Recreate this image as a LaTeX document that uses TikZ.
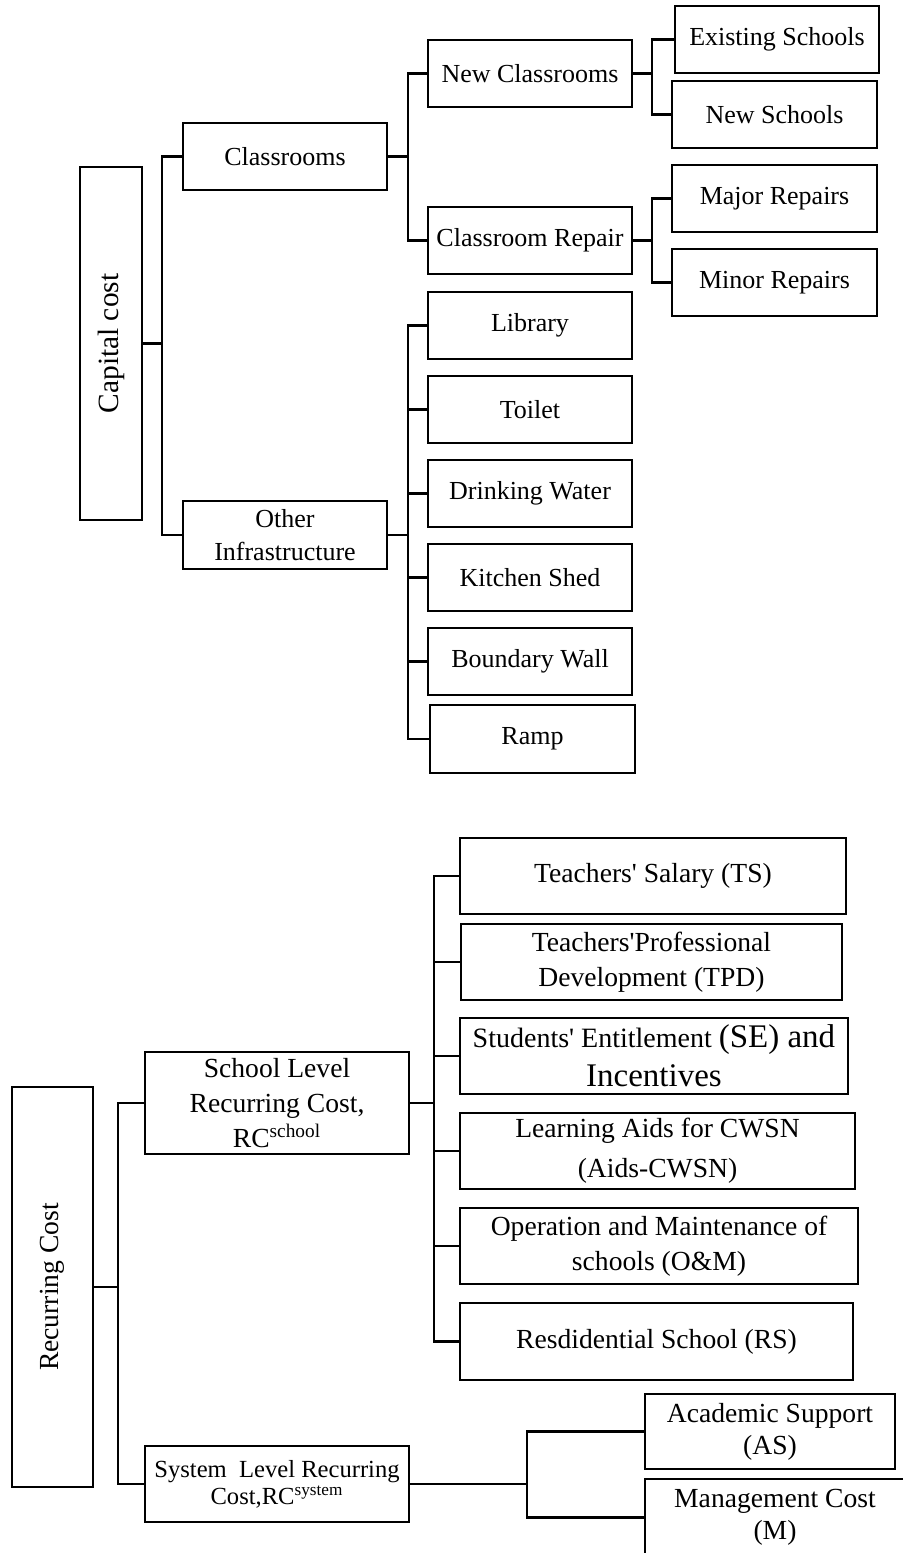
\documentclass[tikz,border=0pt]{standalone}
\usepackage{fontspec}
\setmainfont{Liberation Serif}

\tikzset{
  box/.style={draw, line width=1.1pt, align=center, inner sep=1pt,
    font=\fontsize{13}{16.5}\selectfont},
  lowbox/.style={box, font=\fontsize{13.8}{17.5}\selectfont},
  dim/.style 2 args={minimum width=#1*0.5pt, minimum height=#2*0.5pt},
  link/.style={line width=1.1pt},
}
\newcommand{\aps}{\textquotesingle}

\begin{document}
\begin{tikzpicture}[x=0.5pt,y=-0.5pt]
\useasboundingbox (0,0) rectangle (902,1553);

% capital cost tree
\node[box,dim={62}{353}] (cap) at (111,343.5) {\rotatebox{90}{\fontsize{14.7}{17}\selectfont Capital cost}};
\node[box,dim={204}{67}] (cls) at (285,156.5) {Classrooms};
\node[box,dim={204}{68}] (oth) at (285,535) {Other\\Infrastructure};
\node[box,dim={204}{67}] (newc) at (530,73.5) {New Classrooms};
\node[box,dim={204}{67}] (crep) at (530,240.5) {Classroom Repair};
\node[box,dim={204}{67}] (exs) at (777,39.5) {Existing Schools};
\node[box,dim={205}{67}] (nsch) at (774.5,114.5) {New Schools};
\node[box,dim={205}{67}] (majr) at (774.5,198.5) {Major Repairs};
\node[box,dim={205}{67}] (minr) at (774.5,282.5) {Minor Repairs};
\node[box,dim={204}{67}] (lib) at (530,325.5) {Library};
\node[box,dim={204}{67}] (toil) at (530,409.5) {Toilet};
\node[box,dim={204}{67}] (drw) at (530,493.5) {Drinking Water};
\node[box,dim={204}{67}] (kit) at (530,577.5) {Kitchen Shed};
\node[box,dim={204}{67}] (bnd) at (530,661.5) {Boundary Wall};
\node[box,dim={205}{68}] (ramp) at (532.5,739) {Ramp};

\coordinate (j1) at (162,343.5);
\coordinate (j2) at (408,156.5);
\coordinate (j3) at (652,73.5);
\coordinate (j4) at (652,240.5);
\coordinate (j5) at (408,535);

\draw[link] (cap.east) -- (j1);
\draw[link] (j1) |- (cls.west);
\draw[link] (j1) |- (oth.west);
\draw[link] (cls.east) -- (j2);
\draw[link] (j2) |- (newc.west);
\draw[link] (j2) |- (crep.west);
\draw[link] (newc.east) -- (j3);
\draw[link] (j3) |- (exs.west);
\draw[link] (j3) |- (nsch.west);
\draw[link] (crep.east) -- (j4);
\draw[link] (j4) |- (majr.west);
\draw[link] (j4) |- (minr.west);
\draw[link] (oth.east) -- (j5);
\foreach \n in {lib,toil,drw,kit,bnd,ramp}
  \draw[link] (j5) |- (\n.west);

% recurring cost tree
\node[box,dim={81}{400}] (rec) at (52.5,1287) {\rotatebox{90}{\fontsize{13.8}{17}\selectfont Recurring Cost}};
\node[lowbox,dim={264}{102}] (sch) at (277,1103) {School Level\\Recurring Cost,\\RC\textsuperscript{school}};
\node[lowbox,dim={264}{76},font=\fontsize{12.3}{13.5}\selectfont] (sys) at (277,1484) {System~~Level Recurring\\Cost,RC\textsuperscript{system}};
\node[lowbox,dim={386}{76}] (ts) at (653,876) {Teachers\aps{} Salary (TS)};
\node[lowbox,dim={381}{76}] (tpd) at (651.5,962) {Teachers\aps Professional\\Development (TPD)};
\node[lowbox,dim={388}{76},font=\fontsize{14}{19.5}\selectfont] (se) at (654,1056) {Students\aps{} Entitlement {\fontsize{16.5}{19.5}\selectfont(SE) and}\\{\fontsize{16.5}{19.5}\selectfont Incentives}};
\node[lowbox,dim={395}{76},font=\fontsize{13.8}{20}\selectfont] (aid) at (657.5,1151) {Learning Aids for CWSN\\(Aids-CWSN)};
\node[lowbox,dim={398}{76}] (om) at (659,1246) {Operation and Maintenance of\\schools (O\&M)};
\node[lowbox,dim={393}{77}] (rs) at (656.5,1341.5) {Resdidential School (RS)};
\node[lowbox,dim={250}{75},font=\fontsize{13.8}{16}\selectfont] (as) at (770,1431.5) {Academic Support\\(AS)};
\node[lowbox,dim={274}{77},font=\fontsize{13.8}{16}\selectfont] (mgt) at (782,1517.5) {\begin{tabular}{@{}c@{}}Management Cost\\(M)\end{tabular}\hspace*{7pt}};

\coordinate (j6) at (118,1287);
\coordinate (j7) at (434,1103);
\coordinate (j8) at (527,1484);

\draw[link] (rec.east) -- (j6);
\draw[link] (j6) |- (sch.west);
\draw[link] (j6) |- (sys.west);
\draw[link] (sch.east) -- (j7);
\foreach \n in {ts,tpd,se,aid,om,rs}
  \draw[link] (j7) |- (\n.west);
\draw[link] (sys.east) -- (j8);
\draw[link] (j8) |- (as.west);
\draw[link] (j8) |- (mgt.west);
\end{tikzpicture}
\end{document}
